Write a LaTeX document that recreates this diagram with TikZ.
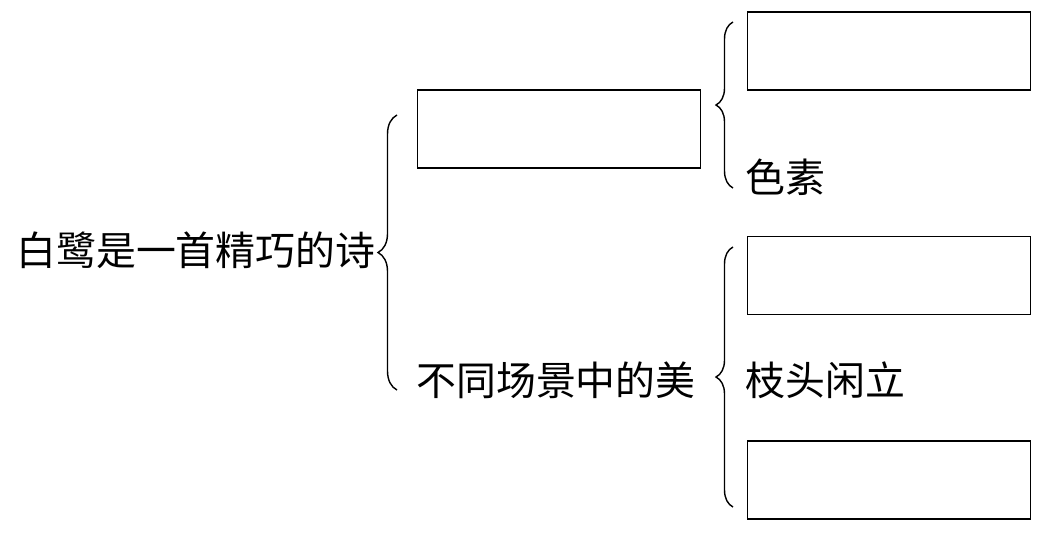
\documentclass[tikz,border=0pt]{standalone}
\usepackage{fontspec}
\usepackage{tikz}
\usetikzlibrary{decorations.pathreplacing}
\newfontfamily\cjk{Noto Sans CJK SC}

\begin{document}
\begin{tikzpicture}[x=0.02cm,y=0.02cm]
            \tikzstyle{every node}+=[inner sep=0pt]
            \tikzstyle{answerbox}=[draw=black, line width=0.9pt, minimum width=5.66cm, minimum height=1.56cm]
            \tikzstyle{label}=[anchor=west, font=\cjk\fontsize{22.7}{27}\selectfont]
            \tikzstyle{curly}=[black, line width=0.8pt, decorate]
            \useasboundingbox (0,0) rectangle (1054,-535);
            \node [label] (poem) at (16,-250) {白鹭是一首精巧的诗};
            \node [answerbox] (box1) at (559,-129) {};
            \node [label] (scene) at (416,-380) {不同场景中的美};
            \node [answerbox] (box2) at (889,-51) {};
            \node [label] (colour) at (745,-177) {色素};
            \node [answerbox] (box3) at (889,-275.5) {};
            \node [label] (branch) at (745,-380) {枝头闲立};
            \node [answerbox] (box4) at (889,-480) {};
            \coordinate (b1s) at (397,-390);
            \coordinate (b1e) at (397,-115);
            \coordinate (b2s) at (733,-188);
            \coordinate (b2e) at (733,-22);
            \coordinate (b3s) at (733,-507);
            \coordinate (b3e) at (733,-247);
            \draw [curly, decoration={brace,amplitude=0.38cm}] (b1s) -- (b1e);
            \draw [curly, decoration={brace,amplitude=0.34cm}] (b2s) -- (b2e);
            \draw [curly, decoration={brace,amplitude=0.34cm}] (b3s) -- (b3e);
\end{tikzpicture}
\end{document}
